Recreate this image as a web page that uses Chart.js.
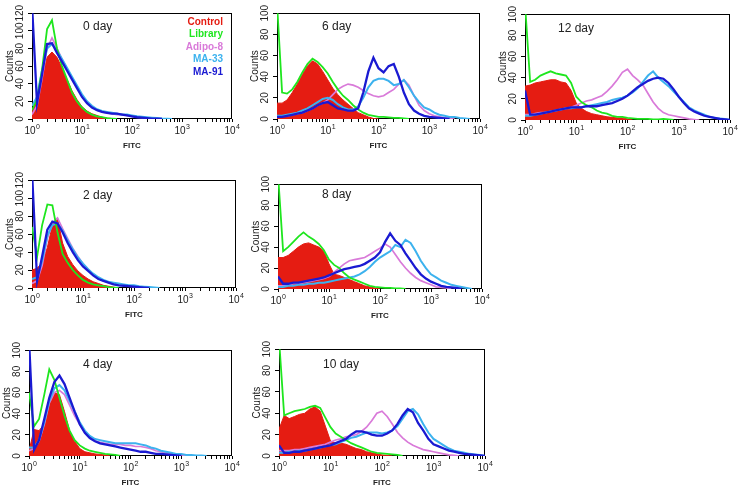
<!DOCTYPE html>
<html>
<head>
<meta charset="utf-8">
<script src="https://cdn.jsdelivr.net/npm/chart.js@4/dist/chart.umd.min.js"></script>
<style>
  body { margin: 0; background: #fff; width: 742px; height: 488px; overflow: hidden; position: relative; }
  canvas { position: absolute; }
</style>
</head>
<body>
<script>
// FITC channel (log scale) at which each histogram value is read
const fitcBins = [1, 1.26, 1.58, 2, 2.51, 3.16, 3.98, 5.01, 6.31, 7.94,
  10, 12.6, 15.8, 20, 25.1, 31.6, 39.8, 50.1, 63.1, 79.4,
  100, 126, 158, 200, 251, 316, 398, 501, 631, 794,
  1000, 1260, 1580, 2000, 2510, 3160, 3980, 5010, 6310, 7940, 10000];
const fitcMajor = [1, 10, 100, 1000, 10000];
const fitcExponents = ['0', '1', '2', '3', '4'];

const seriesNames = ['Control', 'Library', 'Adipo-8', 'MA-33', 'MA-91'];
const seriesColors = ['#e51c12', '#1ee61e', '#d97ad9', '#3cb2ee', '#1a1ad2'];

// counts per bin, one array per sample and day
const day0Control = [8, 20, 45, 70, 76, 70, 58, 45, 32, 22, 14, 9, 6, 4, 2, 1, 0.5, 0];
const day0Library = [10, 22, 55, 102, 112, 80, 60, 45, 30, 20, 13, 8, 5, 3, 2, 1, 0.5, 0];
const day0Adipo8 = [5, 15, 45, 80, 92, 80, 68, 57, 46, 36, 27, 19, 14, 10, 8, 7, 6, 5, 5, 4, 3, 2, 1.5, 1, 0.5, 0];
const day0MA33 = [15, 25, 55, 80, 85, 78, 68, 58, 48, 38, 28, 20, 15, 11, 9, 8, 7, 6, 5, 5, 4, 3, 2.5, 2, 1.5, 1, 0.5, 0.3, 0];
const day0MA91 = [130, 18, 50, 85, 86, 75, 65, 55, 45, 35, 25, 18, 13, 10, 8, 7, 6, 6, 5, 4, 3, 2, 1.5, 1, 0.5, 0.3, 0];

const day2Control = [20, 22, 28, 45, 70, 78, 50, 35, 26, 19, 14, 10, 7, 5, 3, 2, 1, 0];
const day2Library = [68, 35, 70, 93, 92, 62, 38, 28, 20, 14, 9, 6, 4, 3, 2, 1, 0.5, 0];
const day2Adipo8 = [5, 8, 25, 55, 72, 78, 66, 55, 44, 35, 27, 21, 15, 11, 8, 6, 5, 4, 3, 2, 1.5, 1, 0.5, 0];
const day2MA33 = [10, 12, 30, 58, 70, 72, 64, 53, 43, 34, 27, 21, 16, 12, 9, 7, 6, 5, 4, 3, 3, 2, 1.5, 1, 0.5, 0];
const day2MA91 = [130, 8, 35, 65, 74, 72, 62, 50, 40, 31, 24, 19, 14, 10, 8, 6, 4, 3, 2.5, 2, 1.5, 1, 0.5, 0];

const day4Control = [5, 25, 24, 30, 48, 60, 58, 42, 24, 14, 7, 4, 3, 2, 1.5, 1, 0];
const day4Library = [60, 28, 35, 58, 82, 72, 55, 38, 24, 15, 10, 7, 5, 4, 3, 2, 1.5, 1, 0];
const day4Adipo8 = [5, 7, 14, 30, 50, 60, 62, 58, 48, 38, 30, 22, 17, 14, 13, 12, 11, 11, 11, 10, 10, 9, 9, 8, 7, 5, 4, 3, 2, 1.5, 1, 0.5, 0];
const day4MA33 = [8, 8, 15, 32, 52, 64, 67, 62, 52, 42, 32, 24, 19, 16, 15, 14, 13, 12, 12, 12, 12, 12, 11, 10, 8, 7, 5, 4, 3, 2, 2, 1, 1, 0.5, 0.5, 0];
const day4MA91 = [110, 6, 15, 35, 55, 70, 76, 68, 55, 42, 30, 22, 17, 14, 12, 11, 10, 9, 8, 7, 6, 5, 4, 4, 3, 2, 2, 1.5, 1, 0.5, 0];

const day6Control = [15, 15, 18, 25, 33, 42, 50, 55, 52, 45, 37, 29, 23, 18, 14, 10, 6, 4, 2, 0.5, 0];
const day6Library = [110, 25, 24, 28, 35, 44, 52, 57, 54, 49, 43, 35, 28, 22, 18, 13, 9, 6, 4, 3, 2, 2, 1.5, 1, 1, 0.5, 0];
const day6Adipo8 = [2, 3, 3, 4, 5, 6, 8, 10, 13, 15, 18, 23, 28, 31, 33, 32, 30, 27, 24, 22, 21, 22, 25, 28, 33, 37, 32, 22, 13, 8, 5, 3, 2, 1, 0.5, 0];
const day6MA33 = [3, 3, 4, 5, 6, 8, 10, 13, 16, 19, 20, 18, 14, 11, 9, 9, 12, 20, 30, 36, 38, 38, 36, 32, 33, 37, 30, 22, 16, 11, 9, 6, 4, 3, 2, 2, 1, 0.5, 0];
const day6MA91 = [2, 2, 3, 4, 5, 6, 8, 10, 13, 15, 16, 13, 10, 9, 8, 8, 10, 25, 45, 58, 48, 44, 50, 52, 40, 25, 14, 8, 5, 3, 2, 1.5, 1, 0.5, 0];

const day8Control = [30, 30, 32, 36, 40, 43, 44, 42, 40, 36, 24, 14, 13, 11, 9, 7, 5, 3, 2, 1, 0];
const day8Library = [110, 36, 40, 45, 50, 54, 50, 47, 43, 37, 28, 23, 20, 15, 11, 9, 7, 5, 3, 2, 1.5, 1, 1, 0.5, 0.5, 0];
const day8Adipo8 = [3, 3, 4, 5, 5, 6, 7, 8, 9, 10, 12, 16, 20, 24, 27, 28, 29, 30, 33, 36, 39, 43, 40, 33, 26, 20, 15, 11, 8, 6, 4, 2, 1.5, 1, 0];
const day8MA33 = [2, 2, 3, 3, 4, 4, 5, 5, 6, 6, 7, 8, 9, 10, 11, 12, 14, 17, 21, 26, 30, 33, 36, 42, 40, 47, 44, 36, 27, 20, 14, 11, 8, 6, 4, 3, 2, 1, 0];
const day8MA91 = [12, 5, 5, 6, 6, 7, 8, 9, 10, 11, 13, 15, 17, 19, 20, 21, 22, 24, 27, 30, 35, 45, 53, 46, 42, 34, 27, 20, 14, 10, 7, 5, 3, 2, 1.5, 1, 0];

const day10Control = [25, 38, 35, 37, 39, 40, 44, 46, 42, 28, 14, 12, 12, 11, 9, 7, 6, 4, 3, 2, 1, 0.5, 0];
const day10Library = [110, 38, 40, 42, 43, 44, 46, 47, 45, 36, 27, 21, 18, 15, 12, 10, 8, 6, 4, 3, 2.5, 2, 1.5, 1, 0];
const day10Adipo8 = [5, 5, 5, 6, 6, 7, 8, 9, 10, 11, 13, 15, 16, 18, 19, 20, 23, 27, 33, 40, 42, 37, 30, 22, 17, 13, 10, 8, 6, 5, 4, 3, 2, 1, 0.5, 0];
const day10MA33 = [3, 3, 4, 4, 5, 5, 6, 7, 8, 9, 10, 11, 13, 15, 17, 18, 20, 22, 22, 22, 21, 22, 24, 28, 35, 42, 44, 39, 30, 22, 16, 13, 10, 7, 5, 4, 3, 2, 1.5, 1, 0];
const day10MA91 = [10, 3, 3, 4, 4, 5, 6, 7, 8, 9, 10, 12, 14, 16, 20, 23, 23, 22, 20, 19, 19, 21, 24, 30, 38, 44, 41, 31, 24, 16, 11, 9, 7, 5, 4, 3, 2, 1.5, 1, 0.5, 0];

const day12Control = [32, 33, 35, 36, 37, 38, 38, 36, 35, 28, 16, 11, 8, 6, 5, 4, 3, 2.5, 2, 2, 1, 0];
const day12Library = [110, 36, 38, 42, 44, 46, 44, 43, 42, 35, 22, 17, 14, 12, 9, 7, 6, 4, 3, 3, 2, 1.5, 1, 1, 1, 0.5, 0.5, 1, 0.5, 0];
const day12Adipo8 = [5, 5, 6, 7, 7, 8, 9, 10, 11, 12, 14, 16, 18, 19, 21, 23, 27, 32, 38, 45, 48, 42, 38, 33, 25, 17, 11, 7, 5, 4, 3, 2, 1, 0.5, 0];
const day12MA33 = [4, 4, 5, 6, 7, 8, 9, 10, 11, 11, 12, 12, 13, 14, 15, 16, 17, 19, 20, 21, 23, 26, 30, 36, 42, 46, 40, 36, 32, 27, 22, 17, 12, 9, 7, 5, 3, 2, 1.5, 1, 0];
const day12MA91 = [28, 5, 5, 6, 7, 8, 9, 10, 11, 12, 12, 12, 13, 13, 13, 14, 15, 16, 18, 20, 23, 27, 31, 34, 37, 39, 40, 39, 35, 29, 22, 16, 11, 8, 6, 4, 3, 2, 1, 0.5, 0];

// plot box on the page: [left, top, right, bottom]; title offset inside the box
const panels = [
  { title: '0 day', box: [32, 12, 232, 119], yMax: 120, titleAt: [51, 13], legend: true,
    series: [day0Control, day0Library, day0Adipo8, day0MA33, day0MA91] },
  { title: '6 day', box: [277, 12, 480, 119], yMax: 100, titleAt: [45, 13],
    series: [day6Control, day6Library, day6Adipo8, day6MA33, day6MA91] },
  { title: '12 day', box: [525, 13, 730, 120], yMax: 100, titleAt: [33, 14],
    series: [day12Control, day12Library, day12Adipo8, day12MA33, day12MA91] },
  { title: '2 day', box: [32, 179, 236, 288], yMax: 120, titleAt: [51, 15],
    series: [day2Control, day2Library, day2Adipo8, day2MA33, day2MA91] },
  { title: '8 day', box: [278, 183, 482, 289], yMax: 100, titleAt: [44, 10],
    series: [day8Control, day8Library, day8Adipo8, day8MA33, day8MA91] },
  { title: '4 day', box: [29, 349, 232, 456], yMax: 100, titleAt: [54, 14],
    series: [day4Control, day4Library, day4Adipo8, day4MA33, day4MA91] },
  { title: '10 day', box: [279, 348, 485, 456], yMax: 100, titleAt: [44, 15],
    series: [day10Control, day10Library, day10Adipo8, day10MA33, day10MA91] }
];

const Y_AXIS_W = 34, X_AXIS_H = 34, PAD_TOP = 9, PAD_RIGHT = 10;
const drawOrder = [5, 2, 4, 3, 1];     // bigger number = drawn further back
const lineWidths = [1, 1.8, 1.7, 2, 2.3];
const FONT = 'Arial, "Liberation Sans", sans-serif';

// frame, tick labels, day label and legend text
const panelDecor = {
  id: 'panelDecor',
  beforeDatasetsDraw(chart) {
    const a = chart.chartArea;
    const ctx = chart.ctx;
    ctx.save();
    ctx.strokeStyle = '#000';
    ctx.lineWidth = 1;
    ctx.strokeRect(Math.round(a.left) + 0.5, Math.round(a.top) + 0.5,
      Math.round(a.width) - 1, Math.round(a.height) - 1);
    ctx.restore();
  },
  afterDraw(chart, args, opts) {
    const a = chart.chartArea;
    const ctx = chart.ctx;
    const xs = chart.scales.x, ys = chart.scales.y;
    ctx.save();
    ctx.fillStyle = '#222';

    // y tick labels, written upwards like the rotated axis
    ctx.font = '10px ' + FONT;
    ctx.textAlign = 'center';
    ctx.textBaseline = 'middle';
    ys.ticks.forEach(t => {
      const py = ys.getPixelForValue(t.value);
      ctx.save();
      ctx.translate(a.left - 12, py);
      ctx.rotate(-Math.PI / 2);
      ctx.fillText(String(t.value), 0, 0);
      ctx.restore();
    });

    // x tick labels as 10 with a raised exponent
    ctx.textAlign = 'left';
    ctx.textBaseline = 'alphabetic';
    fitcMajor.forEach((v, i) => {
      const px = xs.getPixelForValue(v);
      ctx.font = '10px ' + FONT;
      const w1 = ctx.measureText('10').width;
      ctx.font = '7px ' + FONT;
      const w2 = ctx.measureText(fitcExponents[i]).width;
      const x0 = px - (w1 + w2) / 2;
      ctx.font = '10px ' + FONT;
      ctx.fillText('10', x0, a.bottom + 15);
      ctx.font = '7px ' + FONT;
      ctx.fillText(fitcExponents[i], x0 + w1 + 0.5, a.bottom + 10);
    });

    ctx.font = '12px ' + FONT;
    ctx.textBaseline = 'middle';
    ctx.fillText(opts.title, a.left + opts.titleAt[0], a.top + opts.titleAt[1]);
    if (opts.legend) {
      ctx.font = 'bold 10px ' + FONT;
      ctx.textAlign = 'right';
      seriesNames.forEach((name, i) => {
        ctx.fillStyle = seriesColors[i];
        ctx.fillText(name, a.right - 9, a.top + 9 + i * 12.4);
      });
    }
    ctx.restore();
  }
};

panels.forEach(p => {
  const [L, T, R, B] = p.box;
  const canvas = document.createElement('canvas');
  canvas.width = Y_AXIS_W + (R - L) + PAD_RIGHT;
  canvas.height = PAD_TOP + (B - T) + X_AXIS_H;
  canvas.style.left = (L - Y_AXIS_W) + 'px';
  canvas.style.top = (T - PAD_TOP) + 'px';
  document.body.appendChild(canvas);

  new Chart(canvas, {
    type: 'line',
    data: {
      labels: fitcBins,
      datasets: p.series.map((vals, i) => ({
        label: seriesNames[i],
        data: vals,
        borderColor: seriesColors[i],
        backgroundColor: seriesColors[i],
        borderWidth: lineWidths[i],
        fill: i === 0 ? 'origin' : false,
        pointRadius: 0,
        tension: 0,
        order: drawOrder[i]
      }))
    },
    options: {
      responsive: false,
      animation: false,
      devicePixelRatio: 1,
      layout: { padding: { top: PAD_TOP, right: PAD_RIGHT, left: 0, bottom: 0 } },
      plugins: {
        legend: { display: false },
        tooltip: { enabled: false },
        panelDecor: { title: p.title, titleAt: p.titleAt, legend: !!p.legend }
      },
      scales: {
        x: {
          type: 'logarithmic',
          min: 1,
          max: 10000,
          afterBuildTicks: s => {
            s.ticks = s.ticks.filter(t => {
              const m = t.value / Math.pow(10, Math.floor(Math.log10(t.value) + 1e-9));
              return Math.abs(m - Math.round(m)) < 1e-6;
            });
          },
          afterFit: s => { s.height = X_AXIS_H; },
          border: { display: false },
          grid: { drawOnChartArea: false, tickLength: 3, color: '#000', tickWidth: 1 },
          ticks: { autoSkip: false, maxRotation: 0, callback: () => '' },
          title: {
            display: true,
            text: 'FITC',
            color: '#222',
            padding: { top: 0, bottom: 2 },
            font: { family: FONT, size: 8, weight: 'bold' }
          }
        },
        y: {
          min: 0,
          max: p.yMax,
          afterFit: s => { s.width = Y_AXIS_W; },
          border: { display: false },
          grid: { drawOnChartArea: false, tickLength: 4, color: '#000', tickWidth: 1 },
          ticks: { stepSize: 20, autoSkip: false, callback: () => '' },
          title: {
            display: true,
            text: 'Counts',
            color: '#222',
            padding: { top: 6, bottom: 0 },
            font: { family: FONT, size: 10 }
          }
        }
      }
    },
    plugins: [panelDecor]
  });
});
</script>
</body>
</html>
